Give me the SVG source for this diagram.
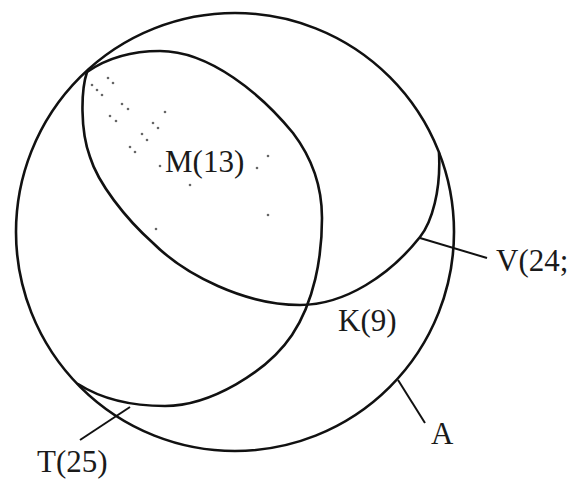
<svg xmlns="http://www.w3.org/2000/svg" width="578" height="479" viewBox="0 0 578 479">
<style>
.set{fill:none;stroke:#111;stroke-width:2.6;stroke-linejoin:round;stroke-linecap:round}
.ptr{fill:none;stroke:#111;stroke-width:2}
.lbl{font-family:"Liberation Serif","Times New Roman",serif;font-size:31px;fill:#1a1a1a}
.dot{fill:#666}
</style>
<rect width="578" height="479" fill="#fff"/>
<g id="A">
<circle class="set" cx="235" cy="232" r="219"/>
<line class="ptr" x1="398" y1="380" x2="425" y2="423"/>
<text class="lbl" x="431" y="444">A</text>
</g>
<g id="T">
<path class="set" d="M87,72 C110,56 135,51 160,51 C210,51 262,95 293,133 C312,158 322,188 322,218 C322,258 314,302 292,335 C267,372 210,406 165,406 C130,406 100,398 78,384"/>
<text class="lbl" x="37" y="472">T(25)</text>
</g>
<g id="V">
<path class="set" d="M87,72 C81,90 80,130 90,157 C98,183 125,218 153,243 C185,275 245,305 300,305 C345,305 390,275 420,237 C432,222 441,190 439,153"/>
<text class="lbl" x="496" y="271">V(24;</text>
</g>
<g id="M">
<text class="lbl" x="165" y="172">M(13)</text>
<g class="dot">
<circle cx="108" cy="78" r="1.3"/><circle cx="113" cy="83" r="1.3"/><circle cx="92" cy="85" r="1.3"/>
<circle cx="97" cy="90" r="1.3"/><circle cx="102" cy="95" r="1.3"/><circle cx="122" cy="104" r="1.3"/>
<circle cx="128" cy="109" r="1.3"/><circle cx="165" cy="112" r="1.3"/><circle cx="110" cy="116" r="1.3"/>
<circle cx="116" cy="121" r="1.3"/><circle cx="153" cy="123" r="1.3"/><circle cx="158" cy="128" r="1.3"/>
<circle cx="142" cy="134" r="1.3"/><circle cx="147" cy="140" r="1.3"/><circle cx="130" cy="147" r="1.3"/>
<circle cx="135" cy="152" r="1.3"/><circle cx="160" cy="166" r="1.3"/><circle cx="190" cy="185" r="1.3"/>
<circle cx="268" cy="156" r="1.3"/><circle cx="257" cy="168" r="1.3"/><circle cx="268" cy="215" r="1.3"/>
<circle cx="156" cy="229" r="1.3"/>
</g>
</g>
<g id="K">
<text class="lbl" x="338" y="331">K(9)</text>
</g>
<g id="connectors">
<line class="ptr" x1="420" y1="238" x2="487" y2="258"/>
<line class="ptr" x1="130" y1="407" x2="80" y2="440"/>
</g>
</svg>
